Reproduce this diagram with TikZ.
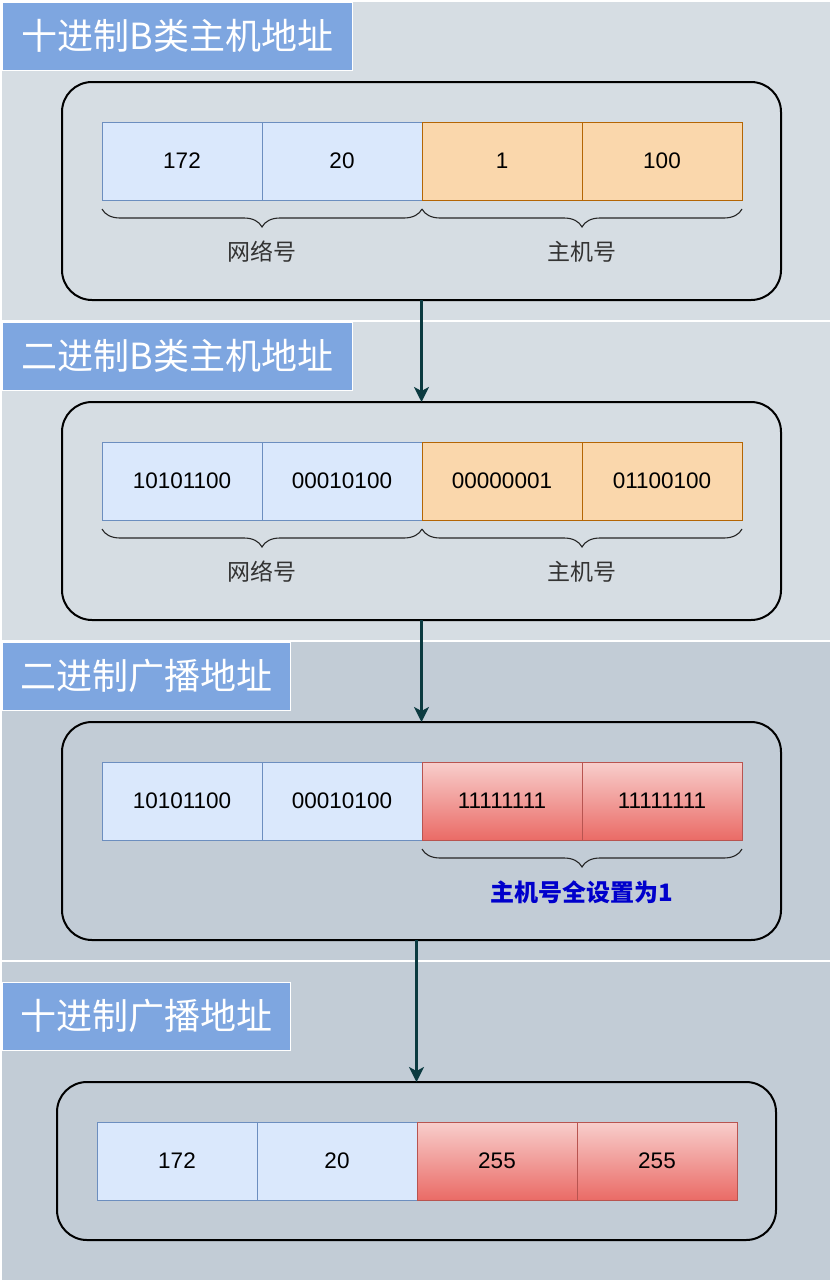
\documentclass[tikz,border=0pt]{standalone}
\usepackage{fontspec}
\setmainfont{Liberation Sans}
\newfontfamily\cjk{Noto Sans CJK SC}
\usetikzlibrary{shapes,arrows,arrows.meta,positioning,calc,decorations.pathreplacing}
\definecolor{bandlight}{HTML}{D6DDE3}
\definecolor{banddark}{HTML}{C2CCD6}
\definecolor{titleblue}{HTML}{7EA6E0}
\definecolor{netfill}{HTML}{DAE8FC}
\definecolor{netline}{HTML}{6C8EBF}
\definecolor{hostfill}{HTML}{FAD7AC}
\definecolor{hostline}{HTML}{B46504}
\definecolor{redtop}{HTML}{F8CECC}
\definecolor{redbot}{HTML}{EA6B66}
\definecolor{redline}{HTML}{B85450}
\definecolor{arrowteal}{HTML}{0B3A40}
\definecolor{notecol}{HTML}{0000CC}
\begin{document}
\begin{tikzpicture}[x=1pt, y=-1pt]
	\tikzstyle{title} = [rectangle, draw=white, fill=titleblue, text=white, anchor=north west,
	minimum height=68pt, inner sep=0pt, font=\cjk\fontsize{36}{40}\selectfont]
	\tikzstyle{frame} = [rectangle, draw=black, line width=2pt, rounded corners=30pt,
	minimum width=719pt, outer sep=0pt]
	\tikzstyle{cell} = [rectangle, minimum width=160pt, minimum height=78pt, inner sep=0pt,
	outer sep=0pt, font=\fontsize{22.5}{26}\selectfont, text=black]
	\tikzstyle{net} = [cell, draw=netline, fill=netfill]
	\tikzstyle{host} = [cell, draw=hostline, fill=hostfill]
	\tikzstyle{bcast} = [cell, draw=redline, top color=redtop, bottom color=redbot]
	\tikzstyle{brace} = [draw=black!85, line width=1.1pt, decorate,
	decoration={brace, mirror, amplitude=18pt}]
	\tikzstyle{part} = [font=\cjk\fontsize{23}{26}\selectfont, text=black!80]
	\tikzstyle{line} = [draw=arrowteal, -{Stealth[length=15pt, width=15pt, inset=4pt]}, line width=2.5pt]
	% Background bands
	\fill[white] (0,0) rectangle (832,1282);
	\fill[bandlight] (2,2) rectangle (830,320);
	\fill[bandlight] (2,322) rectangle (830,640);
	\fill[banddark] (2,642) rectangle (830,960);
	\fill[banddark] (2,962) rectangle (830,1280);
	% Titles
	\node [title, minimum width=350pt] (t1) at (2,2) {十进制B类主机地址};
	\node [title, minimum width=350pt] (t2) at (2,322) {二进制B类主机地址};
	\node [title, minimum width=288pt] (t3) at (2,642) {二进制广播地址};
	\node [title, minimum width=288pt] (t4) at (2,982) {十进制广播地址};
	% Frames
	\node [frame, minimum height=218pt] (f1) at (421.5,191) {};
	\node [frame, minimum height=218pt] (f2) at (421.5,511) {};
	\node [frame, minimum height=218pt] (f3) at (421.5,831) {};
	\node [frame, minimum height=158pt] (f4) at (416.5,1161) {};
	% Decimal host address
	\node [net, anchor=north west] (a1) at ($(f1.north west)+(40,40)$) {172};
	\node [net, right=0pt of a1] (a2) {20};
	\node [host, right=0pt of a2] (a3) {1};
	\node [host, right=0pt of a3] (a4) {100};
	\path [brace] ($(a1.south west)+(0,9)$) -- ($(a2.south east)+(0,9)$);
	\path [brace] ($(a3.south west)+(0,9)$) -- ($(a4.south east)+(0,9)$);
	\node [part] (n1) at ($(a1.south west)!0.5!(a2.south east)+(0,52)$) {网络号};
	\node [part] (h1) at ($(a3.south west)!0.5!(a4.south east)+(0,52)$) {主机号};
	% Binary host address
	\node [net, anchor=north west] (b1) at ($(f2.north west)+(40,40)$) {10101100};
	\node [net, right=0pt of b1] (b2) {00010100};
	\node [host, right=0pt of b2] (b3) {00000001};
	\node [host, right=0pt of b3] (b4) {01100100};
	\path [brace] ($(b1.south west)+(0,9)$) -- ($(b2.south east)+(0,9)$);
	\path [brace] ($(b3.south west)+(0,9)$) -- ($(b4.south east)+(0,9)$);
	\node [part] (n2) at ($(b1.south west)!0.5!(b2.south east)+(0,52)$) {网络号};
	\node [part] (h2) at ($(b3.south west)!0.5!(b4.south east)+(0,52)$) {主机号};
	% Binary broadcast address
	\node [net, anchor=north west] (c1) at ($(f3.north west)+(40,40)$) {10101100};
	\node [net, right=0pt of c1] (c2) {00010100};
	\node [bcast, right=0pt of c2] (c3) {11111111};
	\node [bcast, right=0pt of c3] (c4) {11111111};
	\path [brace] ($(c3.south west)+(0,9)$) -- ($(c4.south east)+(0,9)$);
	\node [part, text=notecol, font=\cjk\bfseries\fontsize{24}{28}\selectfont] (h3)
	at ($(c3.south west)!0.5!(c4.south east)+(0,52)$) {主机号全设置为1};
	% Decimal broadcast address
	\node [net, anchor=north west] (d1) at ($(f4.north west)+(40,40)$) {172};
	\node [net, right=0pt of d1] (d2) {20};
	\node [bcast, right=0pt of d2] (d3) {255};
	\node [bcast, right=0pt of d3] (d4) {255};
	% Draw edges
	\path [line] (f1.south) -- (f2.north);
	\path [line] (f2.south) -- (f3.north);
	\path [line] (f3.south -| f4.north) -- (f4.north);
\end{tikzpicture}
\end{document}
